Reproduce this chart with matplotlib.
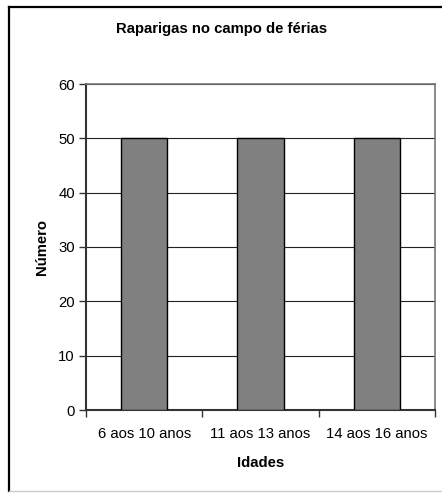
import matplotlib
matplotlib.use("Agg")
import matplotlib.pyplot as plt
from matplotlib.lines import Line2D

plt.rcParams['font.family'] = ['Liberation Sans', 'DejaVu Sans']

categories = ["6 aos 10 anos", "11 aos 13 anos", "14 aos 16 anos"]
values = [50, 50, 50]
y_ticks = [0, 10, 20, 30, 40, 50, 60]

fig = plt.figure(figsize=(4.42, 4.93), dpi=100)
ax = fig.add_axes([86/442, 83/493, 349/442, 326/493])

x = list(range(len(categories)))
ax.bar(x, values, width=0.4, color="#808080", edgecolor="black", linewidth=1.0, zorder=3)

ax.set_xlim(-0.5, len(categories) - 0.5)
ax.set_ylim(0, 60)
ax.set_yticks(y_ticks)
ax.yaxis.grid(True, color="#222222", linewidth=0.8, zorder=0)
ax.set_axisbelow(True)

# category labels centred, ticks on the category boundaries
ax.set_xticks(x)
ax.set_xticklabels(categories, fontsize=10.7)
ax.tick_params(axis="x", length=0, pad=12)
ax.set_xticks([i + 0.5 for i in range(-1, len(categories))], minor=True)
ax.tick_params(axis="x", which="minor", length=5, width=1, color="#333333")
ax.tick_params(axis="y", length=5, width=1, labelsize=10.7, pad=3, color="#333333")

for side in ("top", "right"):
    ax.spines[side].set_color("#777777")
    ax.spines[side].set_linewidth(1.2)
ax.spines["left"].set_color("#333333")
ax.spines["left"].set_linewidth(1.5)
ax.spines["bottom"].set_color("#333333")
ax.spines["bottom"].set_linewidth(1.5)

ax.set_xlabel("Idades", fontsize=10.7, fontweight="bold", labelpad=11)
ax.set_ylabel("Número", fontsize=10.7, fontweight="bold", labelpad=7)

fig.text(222/442, 1 - 29/493, "Raparigas no campo de férias", ha="center", va="center",
         fontsize=10.7, fontweight="bold")

# outer chart frame
fig.add_artist(Line2D([9/442, 9/442], [1 - 7/493, 1 - 491/493], transform=fig.transFigure,
                      color="black", linewidth=1.6))
fig.add_artist(Line2D([9/442, 1.0], [1 - 7/493, 1 - 7/493], transform=fig.transFigure,
                      color="black", linewidth=1.6))
fig.add_artist(Line2D([9/442, 1.0], [1 - 491/493, 1 - 491/493], transform=fig.transFigure,
                      color="#cccccc", linewidth=1.0))

fig.savefig("out.png", dpi=100)
